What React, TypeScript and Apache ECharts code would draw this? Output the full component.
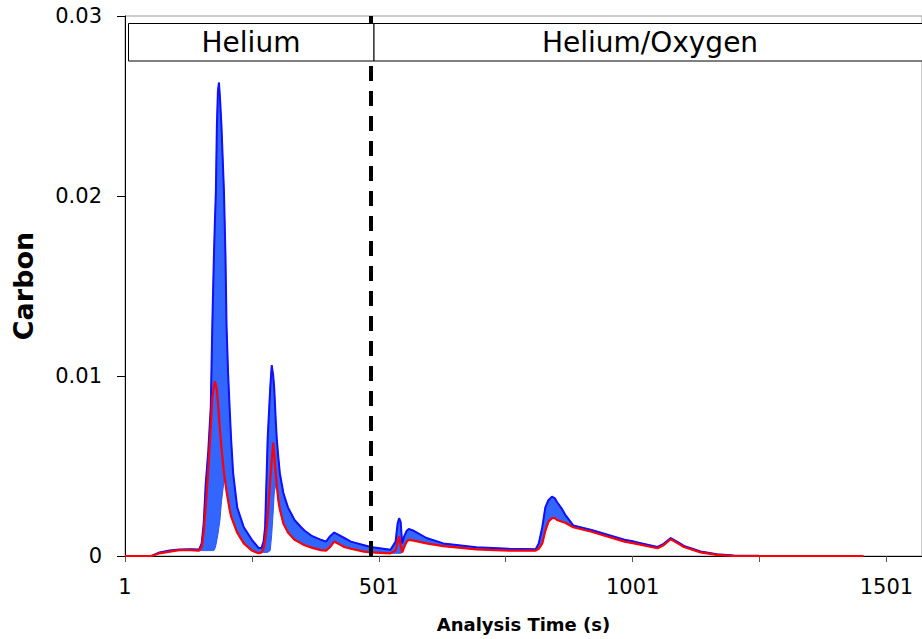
import React, { useEffect, useRef } from 'react';
import * as echarts from 'echarts';

// Analysis time (s)
const timeS = [
  1, 30, 53, 69, 89, 108, 130, 147, 152, 156, 160, 165, 170, 173, 176, 178, 180, 182, 184, 186,
  188, 191, 196, 199, 201, 204, 207, 210, 214, 222, 235, 251, 264, 270, 274, 277, 280, 282, 287, 290,
  293, 295, 298, 300, 303, 306, 313, 322, 335, 348, 355, 370, 387, 397, 405, 413, 420, 433, 446, 472,
  485, 524, 534, 538, 541, 544, 547, 551, 556, 560, 570, 595, 628, 693, 758, 810, 816, 823, 829, 835,
  842, 848, 852, 862, 868, 884, 920, 985, 1004, 1050, 1062, 1076, 1090, 1102, 1135, 1167, 1200, 1250, 1300, 1456,
];

// Lowest run (red)
const lowestRun = [
  0, 0, 0, 0.00015, 0.00024, 0.00033, 0.00033, 0.0003, 0.0005, 0.0013, 0.0027, 0.0048, 0.0072, 0.0088, 0.0094, 0.0097, 0.0095, 0.0092, 0.0085, 0.0078,
  0.007, 0.006, 0.0046, 0.004, 0.0036, 0.0031, 0.0026, 0.0022, 0.0019, 0.0013, 0.0007, 0.0003, 0.00015, 0.0002, 0.0004, 0.0009, 0.0016, 0.0022, 0.0042, 0.0053,
  0.0063, 0.0056, 0.0046, 0.0039, 0.0031, 0.0026, 0.0018, 0.0013, 0.0009, 0.0007, 0.0006, 0.00045, 0.00033, 0.0003, 0.0005, 0.0008, 0.0007, 0.0005, 0.0004, 0.00024,
  0.0002, 0.00015, 0.0003, 0.0008, 0.0011, 0.0006, 0.0002, 0.0005, 0.0008, 0.0009, 0.00085, 0.0007, 0.00055, 0.00037, 0.0003, 0.0003, 0.0004, 0.0007, 0.0014, 0.0019,
  0.0021, 0.0021, 0.002, 0.0019, 0.00185, 0.0016, 0.00135, 0.0008, 0.0007, 0.00043, 0.0006, 0.00093, 0.0007, 0.0005, 0.0002, 0.00006, 0, 0, 0, 0,
];

// Highest run (upper edge of the blue band of runs)
const highestRun: (number | null)[] = [
  null, null, 0, 0.0002, 0.0003, 0.00036, 0.00038, 0.00036, 0.0007, 0.0018, 0.004, 0.0058, 0.0083, 0.0128, 0.0165, 0.0185, 0.0202, 0.0239, 0.0258, 0.0263,
  0.0255, 0.0239, 0.0202, 0.0165, 0.0128, 0.0102, 0.0083, 0.0065, 0.0046, 0.0027, 0.0016, 0.0009, 0.00045, 0.00045, 0.0008, 0.0016, 0.0045, 0.0065, 0.0093, 0.0106,
  0.01, 0.0093, 0.0075, 0.0065, 0.0055, 0.0046, 0.0035, 0.0027, 0.002, 0.0016, 0.0014, 0.0011, 0.0009, 0.0008, 0.0011, 0.0013, 0.0012, 0.001, 0.0008, 0.0006,
  0.0005, 0.00035, 0.0008, 0.0018, 0.0021, 0.0019, 0.0007, 0.0011, 0.0014, 0.0015, 0.0014, 0.001, 0.0007, 0.00048, 0.0004, 0.00038, 0.0007, 0.0016, 0.0027, 0.0031,
  0.0033, 0.0032, 0.003, 0.0026, 0.0023, 0.0017, 0.00145, 0.0009, 0.0008, 0.0005, 0.00068, 0.001, 0.00077, 0.00056, 0.00025, 0.0001, 0.00003, 0.00002, null, null,
];

// Lower edge of the blue band (other runs sit below the red run inside the two big peaks)
const bandFloor = [
  0, 0, 0, 0.00015, 0.00024, 0.00033, 0.00033, 0.0003, 0.0003, 0.0003, 0.0003, 0.0003, 0.0003, 0.0003, 0.0003, 0.0004, 0.0006, 0.0009, 0.0012, 0.0016,
  0.002, 0.003, 0.0042, 0.004, 0.0036, 0.0031, 0.0026, 0.0022, 0.0019, 0.0013, 0.0007, 0.0003, 0.00015, 0.0002, 0.0002, 0.0002, 0.0002, 0.0002, 0.0003, 0.0012,
  0.0025, 0.0035, 0.004, 0.0039, 0.0031, 0.0026, 0.0018, 0.0013, 0.0009, 0.0007, 0.0006, 0.00045, 0.00033, 0.0003, 0.0005, 0.0008, 0.0007, 0.0005, 0.0004, 0.00024,
  0.0002, 0.00015, 0.00015, 0.00015, 0.00015, 0.00015, 0.0002, 0.0005, 0.0008, 0.0009, 0.00085, 0.0007, 0.00055, 0.00037, 0.0003, 0.0003, 0.0004, 0.0007, 0.0014, 0.0019,
  0.0021, 0.0021, 0.002, 0.0019, 0.00185, 0.0016, 0.00135, 0.0008, 0.0007, 0.00043, 0.0006, 0.00093, 0.0007, 0.0005, 0.0002, 0.00006, 0, 0, 0, 0,
];

const xLabelTicks = [1, 501, 1001, 1501];
const gasSwitchTime = 486;
const phaseLabels = ['Helium', 'Helium/Oxygen'];
const yTitle = 'Carbon';
const xTitle = 'Analysis Time (s)';

const FONT = 'DejaVu Sans';

export default function App() {
  const ref = useRef<HTMLDivElement>(null);

  useEffect(() => {
    const chart = echarts.init(ref.current!, null, { renderer: 'svg' });

    const lowData = timeS.map((t, i) => [t, lowestRun[i]]);
    const highData = timeS.map((t, i) => [t, highestRun[i] == null ? '-' : highestRun[i]]);

    const bandRender = (_params: any, api: any) => {
      const idx: number[] = [];
      for (let i = 0; i < timeS.length; i++) if (highestRun[i] != null) idx.push(i);
      const pts: number[][] = [];
      for (const i of idx) pts.push(api.coord([timeS[i], highestRun[i] as number]));
      for (let k = idx.length - 1; k >= 0; k--) {
        const i = idx[k];
        pts.push(api.coord([timeS[i], bandFloor[i]]));
      }
      return {
        type: 'polygon',
        shape: { points: pts },
        style: { fill: '#3366ff', stroke: '#2a55ff', lineWidth: 1 },
      };
    };

    chart.setOption({
      animation: false,
      backgroundColor: '#ffffff',
      grid: {
        left: 125,
        right: -10,
        top: 16,
        bottom: 83,
        show: true,
        borderColor: '#9a9a9a',
        borderWidth: 1,
        backgroundColor: 'transparent',
      },
      xAxis: {
        type: 'value',
        min: 1,
        max: 1571,
        interval: 250,
        splitLine: { show: false },
        axisLine: { show: true, onZero: false, lineStyle: { color: '#000', width: 1 } },
        axisTick: { show: true, length: 6, lineStyle: { color: '#555', width: 1 } },
        axisLabel: {
          margin: 20,
          fontSize: 21,
          fontFamily: FONT,
          color: '#000',
          showMaxLabel: false,
          formatter: (v: number) => (xLabelTicks.includes(v) ? String(v) : ''),
        },
        name: xTitle,
        nameLocation: 'middle',
        nameGap: 59,
        nameTextStyle: { fontFamily: FONT, fontWeight: 'bold', fontSize: 18, color: '#000' },
      },
      yAxis: {
        type: 'value',
        min: 0,
        max: 0.03,
        interval: 0.01,
        splitLine: { show: false },
        axisLine: { show: true, lineStyle: { color: '#000', width: 1 } },
        axisTick: { show: true, length: 8, lineStyle: { color: '#000', width: 1 } },
        axisLabel: {
          margin: 23,
          fontSize: 21,
          fontFamily: FONT,
          color: '#000',
          formatter: (v: number) => (v === 0 ? '0' : v.toFixed(2)),
        },
        name: yTitle,
        nameLocation: 'middle',
        nameGap: 88,
        nameRotate: 90,
        nameTextStyle: { fontFamily: FONT, fontWeight: 'bold', fontSize: 27, color: '#000' },
      },
      series: [
        {
          type: 'custom',
          name: 'band',
          data: [[1, 0]],
          encode: { x: 0, y: 1 },
          renderItem: bandRender,
          silent: true,
          clip: true,
          z: 2,
        },
        {
          type: 'line',
          name: 'highest',
          data: highData,
          symbol: 'none',
          silent: true,
          connectNulls: false,
          lineStyle: { color: '#1010ff', width: 2 },
          z: 3,
        },
        {
          type: 'line',
          name: 'lowest',
          data: lowData,
          symbol: 'none',
          silent: true,
          lineStyle: { color: '#ff0000', width: 2.2 },
          z: 4,
          markLine: {
            silent: true,
            symbol: ['none', 'none'],
            label: { show: false },
            lineStyle: { color: '#000', width: 4, type: [15, 10] },
            data: [{ xAxis: gasSwitchTime }],
          },
        },
      ],
      graphic: [
        {
          type: 'rect',
          z: 100,
          shape: { x: 128.5, y: 23.5, width: 245.5, height: 37.5 },
          style: { fill: '#fff', stroke: '#000', lineWidth: 1 },
        },
        {
          type: 'rect',
          z: 100,
          shape: { x: 374, y: 23.5, width: 560, height: 37.5 },
          style: { fill: '#fff', stroke: '#000', lineWidth: 1 },
        },
        {
          type: 'text',
          z: 101,
          x: 251,
          y: 42,
          style: {
            text: phaseLabels[0],
            fontFamily: FONT,
            fontSize: 28,
            fill: '#000',
            align: 'center',
            verticalAlign: 'middle',
          },
        },
        {
          type: 'text',
          z: 101,
          x: 650,
          y: 42,
          style: {
            text: phaseLabels[1],
            fontFamily: FONT,
            fontSize: 28,
            fill: '#000',
            align: 'center',
            verticalAlign: 'middle',
          },
        },
      ],
    });

    return () => chart.dispose();
  }, []);

  return (
    <div
      ref={ref}
      style={{ position: 'fixed', left: 0, top: 0, width: 922, height: 639, background: '#fff' }}
    />
  );
}
